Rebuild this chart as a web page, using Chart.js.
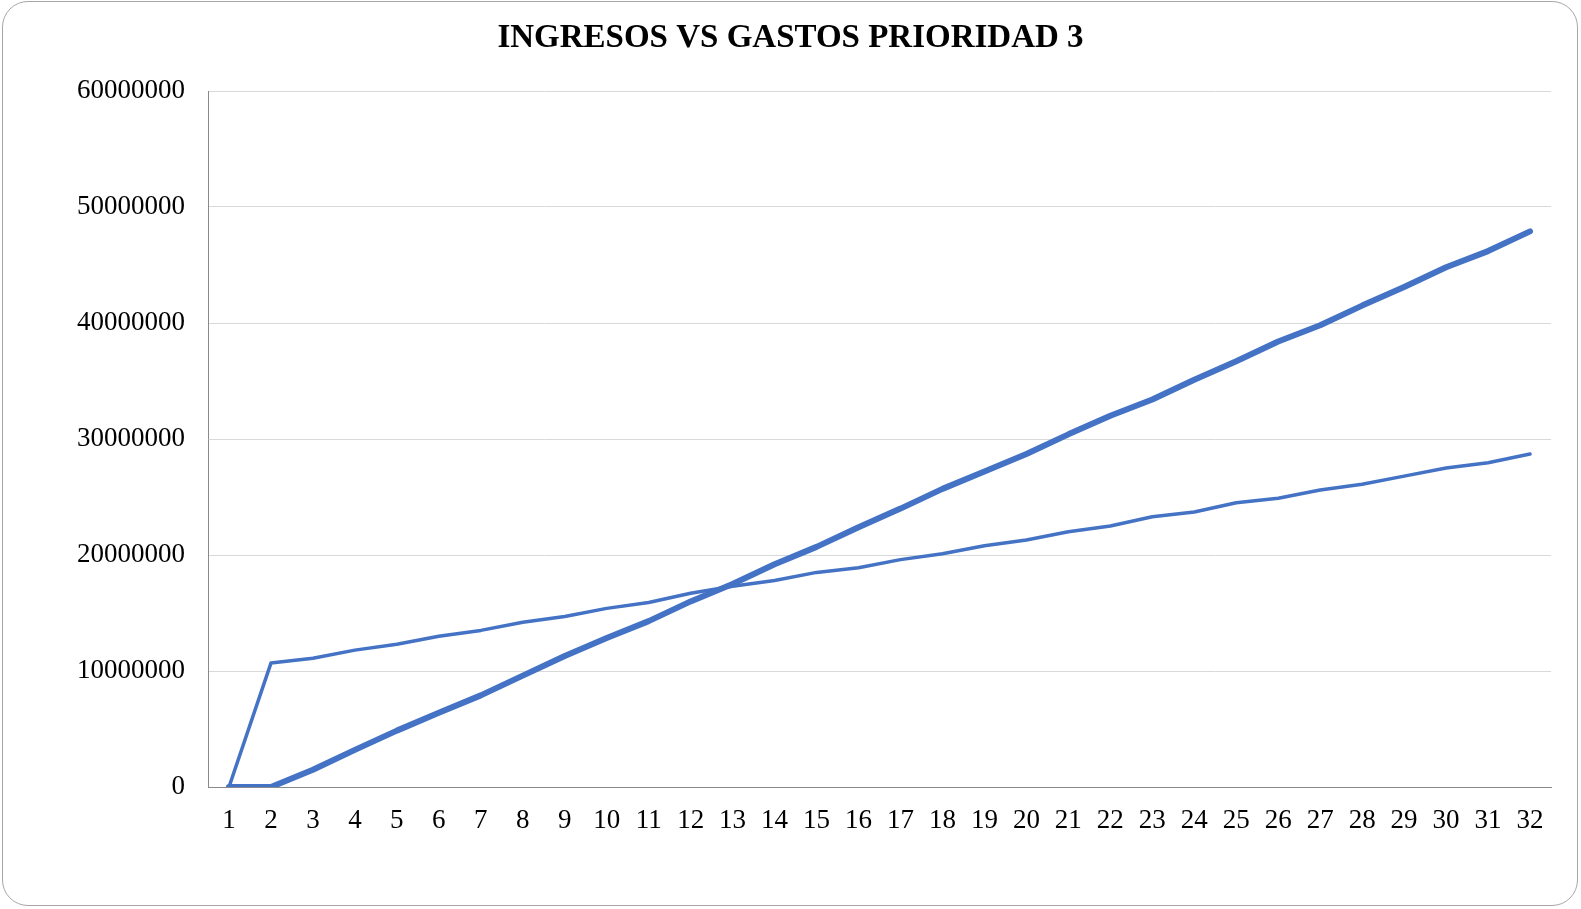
<!DOCTYPE html>
<html>
<head>
<meta charset="utf-8">
<script src="https://cdn.jsdelivr.net/npm/chart.js@4"></script>
<style>
  html, body { margin: 0; padding: 0; background: #fff; }
  #wrap { position: relative; width: 1581px; height: 909px; }
  #frame { position: absolute; left: 2px; top: 1px; width: 1576px; height: 905px;
           border: 1px solid #a6a6a6; border-radius: 26px; box-sizing: border-box; pointer-events: none; }
  canvas { position: absolute; left: 0; top: 0; }
</style>
</head>
<body>
<div id="wrap">
  <canvas id="c" width="1581" height="909"></canvas>
  <div id="frame"></div>
</div>
<script>
const categories = ["1","2","3","4","5","6","7","8","9","10","11","12","13","14","15","16","17","18","19","20","21","22","23","24","25","26","27","28","29","30","31","32"];
const serieGruesa = [0, 0, 1480000, 3200000, 4860000, 6400000, 7900000, 9600000, 11300000, 12850000, 14300000, 16000000, 17500000, 19200000, 20700000, 22400000, 24000000, 25700000, 27200000, 28700000, 30400000, 32000000, 33400000, 35100000, 36700000, 38400000, 39800000, 41500000, 43100000, 44800000, 46200000, 47900000];
const serieDelgada = [0, 10680000, 11100000, 11800000, 12300000, 13000000, 13500000, 14200000, 14700000, 15400000, 15900000, 16700000, 17300000, 17800000, 18500000, 18900000, 19600000, 20100000, 20800000, 21300000, 22000000, 22500000, 23300000, 23700000, 24500000, 24900000, 25600000, 26100000, 26800000, 27500000, 27950000, 28700000];
const yMin = 0, yMax = 60000000, yStep = 10000000;
const titulo = "INGRESOS VS GASTOS PRIORIDAD 3";

const font = "'Liberation Serif', 'Times New Roman', serif";
new Chart(document.getElementById('c'), {
  type: 'line',
  data: {
    labels: categories,
    datasets: [
      { label: 'Serie 1', data: serieGruesa, borderColor: '#4472C4', backgroundColor: '#4472C4',
        borderWidth: 6, pointRadius: 0, tension: 0, borderCapStyle: 'round', borderJoinStyle: 'round' },
      { label: 'Serie 2', data: serieDelgada, borderColor: '#4472C4', backgroundColor: '#4472C4',
        borderWidth: 3.5, pointRadius: 0, tension: 0, borderCapStyle: 'round', borderJoinStyle: 'round' }
    ]
  },
  options: {
    responsive: false,
    animation: false,
    events: [],
    layout: { padding: 0 },
    plugins: {
      legend: { display: false },
      tooltip: { enabled: false },
      title: {
        display: true, text: titulo, color: '#000',
        font: { family: font, size: 33, weight: 'bold', lineHeight: 1.2 },
        padding: { top: 18.5, bottom: 32.9 }
      }
    },
    scales: {
      x: {
        offset: true,
        grid: { display: false, drawTicks: false },
        border: { display: true, color: '#898989', width: 1 },
        ticks: { color: '#000', font: { family: font, size: 27 }, padding: 18, maxRotation: 0, autoSkip: false },
        afterFit(scale) { scale.height = 122; }
      },
      y: {
        min: yMin, max: yMax,
        grid: { color: '#d9d9d9', lineWidth: 1, drawTicks: false },
        border: { display: true, color: '#898989', width: 1 },
        ticks: { stepSize: yStep, color: '#000', font: { family: font, size: 27 }, padding: 23,
                 callback: v => String(v) },
        afterFit(scale) { scale.width = 208; }
      },
      yDer: {
        position: 'right',
        min: yMin, max: yMax,
        grid: { display: false, drawTicks: false },
        border: { display: false },
        ticks: { display: false },
        afterFit(scale) { scale.width = 30; }
      }
    }
  }
});
</script>
</body>
</html>
